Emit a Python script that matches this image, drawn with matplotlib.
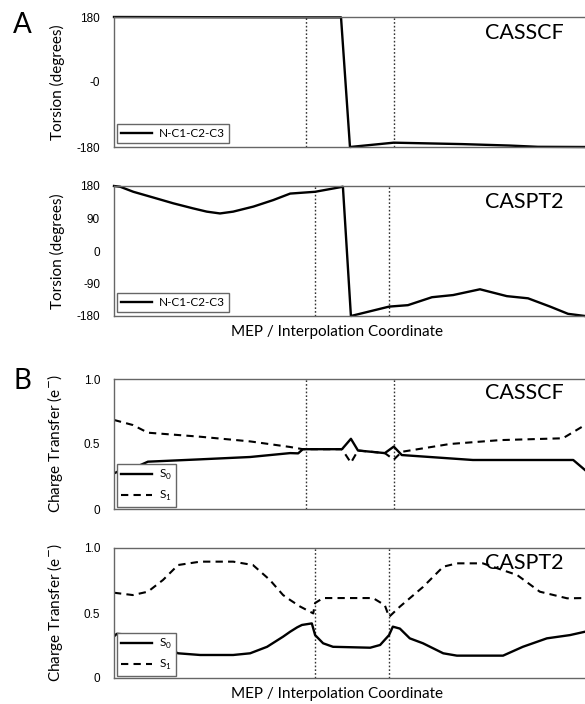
import matplotlib
matplotlib.use("Agg")
from matplotlib import pyplot as plt
from matplotlib.ticker import FixedLocator, FixedFormatter

plt.rcParams['font.family'] = ['Lato', 'DejaVu Sans']

# Torsja N-C1-C2-C3 wzdluz sciezki (wspolrzedna 0..100)
tors_casscf_x = [0, 18.3, 39.5, 48.2, 50.1, 59.4, 74.0, 84.0, 90.0, 100]
tors_casscf_y = [180, 179.5, 179, 179, -180, -168, -172, -176, -179.5, -180]

tors_caspt2_x = [0, 1.3, 4.1, 8.9, 12.6, 16.8, 19.7, 22.5, 25.3, 29.6, 33.8,
                 37.4, 42.7, 48.6, 50.3, 58.4, 62.4, 67.5, 72.0, 77.7, 83.4,
                 87.9, 92.6, 96.4, 100]
tors_caspt2_y = [180, 178, 164, 146, 132, 118, 109, 104, 109, 123, 141,
                 159, 164, 178, -180, -154, -150, -128, -122, -106, -125,
                 -131, -154, -174, -180]

# Przeniesienie ladunku, CASSCF
ct_casscf_s0_x = [0, 2.3, 5.1, 7.2, 18.3, 28.9, 37.4, 39.1, 40.1, 48.4, 50.3,
                  51.8, 57.5, 59.4, 61.1, 76.2, 97.5, 100]
ct_casscf_s0_y = [0.274, 0.313, 0.33, 0.364, 0.382, 0.40, 0.43, 0.428, 0.46,
                  0.46, 0.54, 0.45, 0.43, 0.48, 0.415, 0.377, 0.377, 0.30]
ct_casscf_s1_x = [0, 4.0, 7.2, 18.3, 28.9, 37.4, 40.1, 48.4, 50.3, 51.8, 57.5,
                  59.4, 61.1, 71.3, 82.0, 95.3, 100]
ct_casscf_s1_y = [0.685, 0.646, 0.587, 0.556, 0.52, 0.477, 0.46, 0.46, 0.356,
                  0.45, 0.43, 0.38, 0.44, 0.50, 0.53, 0.544, 0.646]

# Przeniesienie ladunku, CASPT2
ct_caspt2_s0_x = [0, 0.6, 4.0, 6.2, 9.8, 13.6, 18.3, 25.3, 28.9, 32.5, 35.9,
                  37.4, 38.9, 39.9, 42.0, 42.7, 44.4, 46.5, 54.4, 56.5, 58.4,
                  59.2, 60.7, 62.8, 65.6, 69.9, 72.8, 82.6, 86.8, 91.9, 96.8, 100]
ct_caspt2_s0_y = [0.32, 0.34, 0.33, 0.318, 0.254, 0.19, 0.177, 0.177, 0.19,
                  0.24, 0.318, 0.356, 0.39, 0.408, 0.42, 0.33, 0.267, 0.24,
                  0.233, 0.254, 0.33, 0.395, 0.38, 0.305, 0.267, 0.19, 0.172,
                  0.172, 0.24, 0.305, 0.33, 0.356]
ct_caspt2_s1_x = [0, 4.0, 7.2, 10.4, 13.6, 18.3, 25.3, 29.5, 33.1, 35.9, 37.4,
                  39.5, 42.3, 42.7, 44.4, 55.0, 57.5, 58.4, 60.7, 65.6, 69.9,
                  72.8, 78.3, 85.6, 90.4, 96.2, 100]
ct_caspt2_s1_y = [0.656, 0.638, 0.664, 0.754, 0.869, 0.895, 0.895, 0.869,
                  0.754, 0.638, 0.6, 0.55, 0.497, 0.577, 0.615, 0.615, 0.56,
                  0.47, 0.549, 0.70, 0.856, 0.882, 0.882, 0.792, 0.664, 0.613,
                  0.615]

# Polozenia punktow przejsciowych (linie kropkowane)
ts_casscf = [40.8, 59.4]
ts_caspt2 = [42.7, 58.4]

tors_ticks = [180, 0, -180]
tors_labels_casscf = ['180', '-0', '-180']
tors_ticks2 = [180, 90, 0, -90, -180]
tors_labels_caspt2 = ['180', '90', '0', '-90', '-180']
ct_ticks = [1.0, 0.5, 0]
ct_labels = ['1.0', '0.5', '0']

xlabel = "MEP / Interpolation Coordinate"
spine_color = '#666666'


def style_axes(ax, ticks, labels, ylim):
    ax.set_xlim(0, 100)
    ax.set_ylim(*ylim)
    ax.set_xticks([])
    ax.yaxis.set_major_locator(FixedLocator(ticks))
    ax.yaxis.set_major_formatter(FixedFormatter(labels))
    ax.tick_params(axis='y', length=0, pad=10, labelsize=8.5)
    for lab in ax.get_yticklabels():
        lab.set_fontfamily('Liberation Sans')
    ax.spines['right'].set_visible(False)
    for s in ('top', 'bottom', 'left'):
        ax.spines[s].set_color(spine_color)
        ax.spines[s].set_linewidth(1.0)
    ax.yaxis.set_label_coords(-0.103, 0.5)


def add_ts(ax, positions):
    for p in positions:
        ax.axvline(p, color='#333333', linestyle=(0, (1.2, 1.5)), lw=1.0)


fig = plt.figure(figsize=(5.85, 7.04), dpi=100)
W = 471 / 585
H = 130 / 704
ax1 = fig.add_axes([114 / 585, 1 - 147 / 704, W, H])
ax2 = fig.add_axes([114 / 585, 1 - 316 / 704, W, H])
ax3 = fig.add_axes([114 / 585, 1 - 509 / 704, W, H])
ax4 = fig.add_axes([114 / 585, 1 - 678 / 704, W, H])

leg_kw = dict(loc='lower left', fontsize=8.5, fancybox=False, borderaxespad=0,
              handlelength=2.6, framealpha=1, borderpad=0.35,
              labelspacing=0.6, handletextpad=0.6)
ylab_fs = 11
title_fs = 15.5

# A - CASSCF
add_ts(ax1, ts_casscf)
ax1.plot(tors_casscf_x, tors_casscf_y, color='black', lw=1.7,
         label='N-C1-C2-C3', clip_on=False)
style_axes(ax1, tors_ticks, tors_labels_casscf, (-180, 180))
ax1.set_ylabel("Torsion (degrees)", fontsize=ylab_fs)
lg = ax1.legend(bbox_to_anchor=(0.006, 0.03), **leg_kw)
lg.get_frame().set_edgecolor(spine_color)
ax1.text(0.955, 0.88, "CASSCF", transform=ax1.transAxes, ha='right',
         va='center', fontsize=title_fs)

# A - CASPT2
add_ts(ax2, ts_caspt2)
ax2.plot(tors_caspt2_x, tors_caspt2_y, color='black', lw=1.7,
         label='N-C1-C2-C3', clip_on=False)
style_axes(ax2, tors_ticks2, tors_labels_caspt2, (-180, 180))
ax2.set_ylabel("Torsion (degrees)", fontsize=ylab_fs)
lg = ax2.legend(bbox_to_anchor=(0.006, 0.03), **leg_kw)
lg.get_frame().set_edgecolor(spine_color)
ax2.text(0.955, 0.88, "CASPT2", transform=ax2.transAxes, ha='right',
         va='center', fontsize=title_fs)
ax2.set_xlabel(xlabel, fontsize=11)
ax2.xaxis.set_label_coords(0.474, -0.07)

# B - CASSCF
add_ts(ax3, ts_casscf)
ax3.plot(ct_casscf_s0_x, ct_casscf_s0_y, color='black', lw=1.7,
         label=r'S$_\mathregular{0}$')
ax3.plot(ct_casscf_s1_x, ct_casscf_s1_y, color='black', lw=1.5,
         linestyle=(0, (3.5, 2.5)), label=r'S$_\mathregular{1}$')
style_axes(ax3, ct_ticks, ct_labels, (0, 1))
ax3.set_ylabel("Charge Transfer (e$^{-}$)", fontsize=ylab_fs)
lg = ax3.legend(bbox_to_anchor=(0.006, 0.015), **leg_kw)
lg.get_frame().set_edgecolor(spine_color)
ax3.text(0.955, 0.89, "CASSCF", transform=ax3.transAxes, ha='right',
         va='center', fontsize=title_fs)

# B - CASPT2
add_ts(ax4, ts_caspt2)
ax4.plot(ct_caspt2_s0_x, ct_caspt2_s0_y, color='black', lw=1.7,
         label=r'S$_\mathregular{0}$')
ax4.plot(ct_caspt2_s1_x, ct_caspt2_s1_y, color='black', lw=1.5,
         linestyle=(0, (3.5, 2.5)), label=r'S$_\mathregular{1}$')
style_axes(ax4, ct_ticks, ct_labels, (0, 1))
ax4.set_ylabel("Charge Transfer (e$^{-}$)", fontsize=ylab_fs)
lg = ax4.legend(bbox_to_anchor=(0.006, 0.015), **leg_kw)
lg.get_frame().set_edgecolor(spine_color)
ax4.text(0.955, 0.885, "CASPT2", transform=ax4.transAxes, ha='right',
         va='center', fontsize=title_fs)
ax4.set_xlabel(xlabel, fontsize=11)
ax4.xaxis.set_label_coords(0.474, -0.07)

fig.text(22 / 585, 1 - 25 / 704, "A", fontsize=20, ha='center', va='center')
fig.text(22 / 585, 1 - 381 / 704, "B", fontsize=20, ha='center', va='center')

fig.savefig("out.png", dpi=100)
